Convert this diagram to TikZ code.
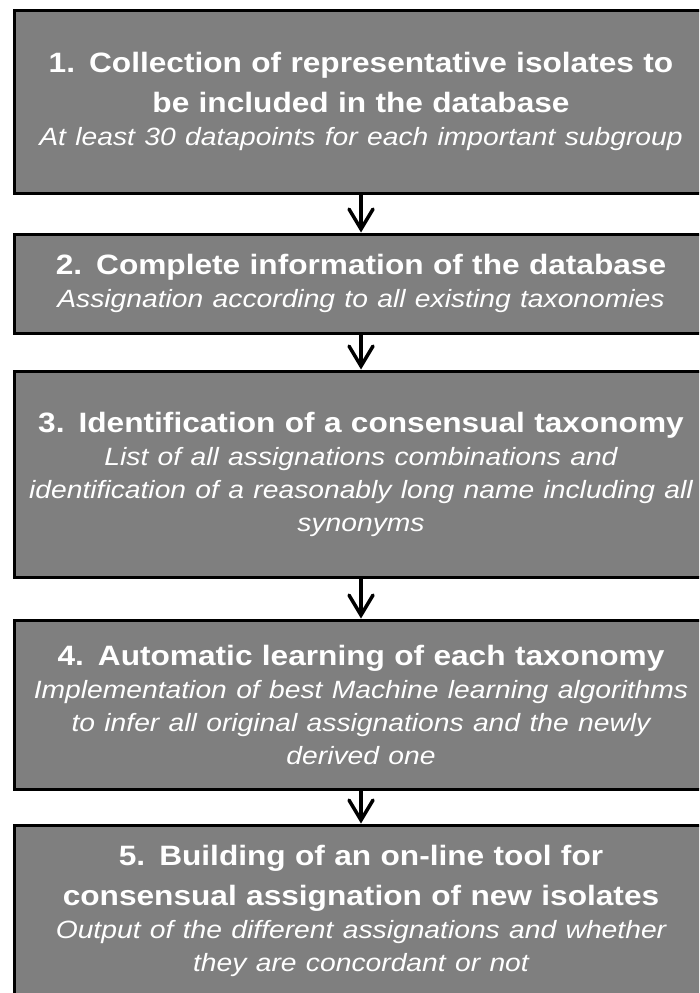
\documentclass[tikz,border=0pt]{standalone}
\usepackage{fontspec}
\setmainfont{Liberation Sans}[FakeStretch=1.13]
\usepackage{tikz}
\usetikzlibrary{arrows.meta,positioning}
\definecolor{boxgray}{RGB}{127,127,127}
\newcommand{\notefont}{\fontsize{25}{33}\selectfont\mdseries\itshape}

\begin{document}
\begin{tikzpicture}[
    x=1pt, y=1pt,
    >={Straight Barb[length=20pt,width=24pt,line cap=round]},
    stage/.style={
		rectangle,
		draw=black,
		line width=3pt,
		fill=boxgray,
		text=white,
		inner sep=0pt,
		text width=694pt,
		align=center,
		font=\fontsize{28}{40}\selectfont\bfseries
	},
	link/.style={
		line width=3.5pt
	}
  ]
  \useasboundingbox (0,0) rectangle (699,-993);
  \clip (0,0) rectangle (699,-993);
    % the five stages, one under the other

  \node [stage, minimum height=183pt] at (361,-101.5) (stage1)
 {1. Collection of representative isolates to\\ be included in the database\par
  {\notefont At least 30 datapoints for each important subgroup\par}};

  \node [stage, minimum height=99pt, below=38pt of stage1] (stage2)
 {2. Complete information of the database\par
  {\notefont Assignation according to all existing taxonomies\par}};

  \node [stage, minimum height=206pt, below=35pt of stage2] (stage3)
 {3. Identification of a consensual taxonomy\par
  {\notefont List of all assignations combinations and\\ identification of a reasonably long name including all\\ synonyms\par}};

  \node [stage, minimum height=169pt, below=40pt of stage3] (stage4)
 {4. Automatic learning of each taxonomy\par
  {\notefont Implementation of best Machine learning algorithms\\ to infer all original assignations and the newly\\ derived one\par}};

  % last box runs off the page, text sits a bit high
  \node [stage, minimum height=187pt, below=33pt of stage4] (stage5)
 {5. Building of an on-line tool for\\ consensual assignation of new isolates\par
  {\notefont Output of the different assignations and whether\\ they are concordant or not\par}\vspace{16pt}};

 \draw [link,->] (stage1) -- (stage2);
 \draw [link,->] (stage2) -- (stage3);
 \draw [link,->] (stage3) -- (stage4);
 \draw [link,->] (stage4) -- (stage5);

\end{tikzpicture}
\end{document}
